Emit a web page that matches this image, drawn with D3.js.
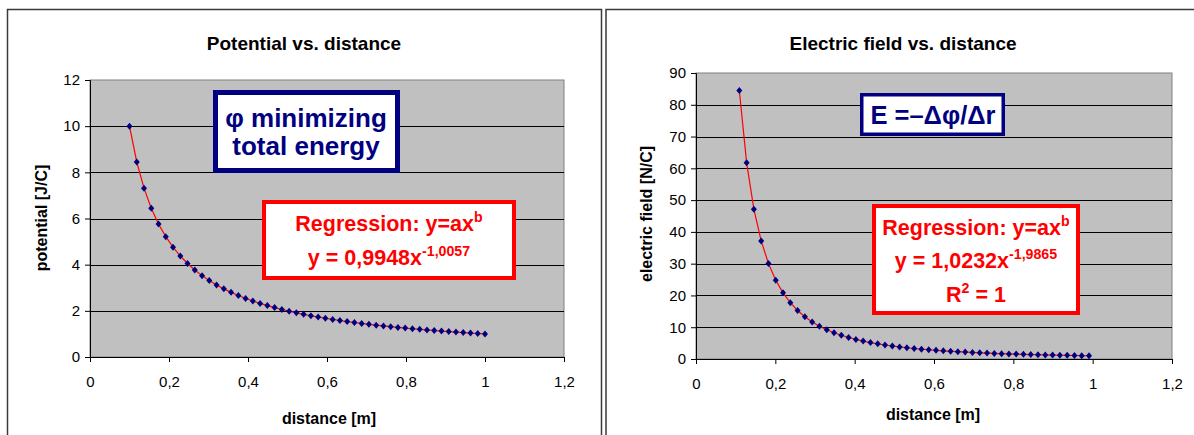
<!DOCTYPE html>
<html><head><meta charset="utf-8">
<script src="https://cdn.jsdelivr.net/npm/d3@7"></script>
<style>
html,body{margin:0;padding:0;background:#fff;}
svg{display:block;font-family:"Liberation Sans",Arial,sans-serif;}
</style></head>
<body>
<svg id="c" width="1194" height="435"></svg>
<script>
// distance grid for potential (m)
const phiR = [0.1000,0.1184,0.1367,0.1551,0.1735,0.1918,0.2102,0.2286,0.2469,0.2653,
  0.2837,0.3020,0.3204,0.3388,0.3571,0.3755,0.3939,0.4122,0.4306,0.4490,
  0.4673,0.4857,0.5041,0.5224,0.5408,0.5592,0.5776,0.5959,0.6143,0.6327,
  0.6510,0.6694,0.6878,0.7061,0.7245,0.7429,0.7612,0.7796,0.7980,0.8163,
  0.8347,0.8531,0.8714,0.8898,0.9082,0.9265,0.9449,0.9633,0.9816,1.0000];
// potential values (J/C)
const phiV = [10.000,8.448,7.313,6.447,5.765,5.213,4.757,4.375,4.050,3.769,
  3.525,3.311,3.121,2.952,2.800,2.663,2.539,2.426,2.322,2.227,
  2.140,2.059,1.984,1.914,1.849,1.788,1.731,1.678,1.628,1.581,
  1.536,1.494,1.454,1.416,1.380,1.346,1.314,1.283,1.253,1.225,
  1.198,1.172,1.148,1.124,1.101,1.079,1.058,1.038,1.019,1.000];
// distance grid for electric field (m)
const eR = [0.1092,0.1276,0.1459,0.1643,0.1827,0.2010,0.2194,0.2378,0.2561,0.2745,
  0.2929,0.3112,0.3296,0.3480,0.3663,0.3847,0.4031,0.4214,0.4398,0.4582,
  0.4765,0.4949,0.5133,0.5316,0.5500,0.5684,0.5867,0.6051,0.6235,0.6418,
  0.6602,0.6786,0.6969,0.7153,0.7337,0.7520,0.7704,0.7888,0.8071,0.8255,
  0.8439,0.8622,0.8806,0.8990,0.9173,0.9357,0.9541,0.9724,0.9908];
// electric field values (N/C)
const eV = [84.50,61.79,47.15,37.17,30.05,24.80,20.81,17.72,15.26,13.29,
  11.67,10.33,9.213,8.265,7.457,6.761,6.159,5.633,5.172,4.766,
  4.405,4.084,3.797,3.539,3.307,3.096,2.906,2.732,2.573,2.428,
  2.295,2.172,2.059,1.955,1.858,1.768,1.685,1.608,1.535,1.468,
  1.404,1.345,1.290,1.238,1.188,1.142,1.099,1.058,1.019];

const xTicks = [0,0.2,0.4,0.6,0.8,1,1.2];
const xTickLabels = ["0","0,2","0,4","0,6","0,8","1","1,2"];
const phiTicks = [0,2,4,6,8,10,12];
const eTicks = [0,10,20,30,40,50,60,70,80,90];

const svg = d3.select("#c");

// panel frames
svg.append("rect").attr("x",7.5).attr("y",9.5).attr("width",594).attr("height",440)
  .attr("fill","#fff").attr("stroke","#3a3a3a").attr("stroke-width",1.5);
svg.append("rect").attr("x",606).attr("y",9.5).attr("width",600).attr("height",440)
  .attr("fill","#fff").attr("stroke","#3a3a3a").attr("stroke-width",1.5);

function chart(o){
  const g = svg.append("g");
  const x = d3.scaleLinear().domain([0,1.2]).range([o.left,o.right]);
  const y = d3.scaleLinear().domain([0,o.ymax]).range([o.bottom,o.top]);
  g.append("rect").attr("x",o.left).attr("y",o.top)
    .attr("width",o.right-o.left).attr("height",o.bottom-o.top)
    .attr("fill","#c0c0c0").attr("stroke","#808080").attr("stroke-width",1);
  g.selectAll(".gl").data(o.yTicks.filter(v=>v>0 && v<o.ymax)).enter().append("line")
    .attr("x1",o.left).attr("x2",o.right)
    .attr("y1",d=>Math.round(y(d))+0.5).attr("y2",d=>Math.round(y(d))+0.5)
    .attr("stroke","#000").attr("stroke-width",1);
  const xa = d3.axisBottom(x).tickValues(xTicks).tickFormat((d,i)=>xTickLabels[i]).tickSizeOuter(0).tickSize(5).tickPadding(14);
  const ya = d3.axisLeft(y).tickValues(o.yTicks).tickSizeOuter(0).tickSize(5).tickPadding(5);
  const gx = g.append("g").attr("transform",`translate(0,${o.bottom})`).call(xa);
  const gy = g.append("g").attr("transform",`translate(${o.left},0)`).call(ya);
  [gx,gy].forEach(a=>{
    a.select(".domain").attr("stroke","#000");
    a.selectAll(".tick line").attr("stroke","#000");
    a.selectAll("text").attr("font-family","Liberation Sans, Arial, sans-serif")
      .attr("font-size",15).attr("fill","#000");
  });
  g.append("text").attr("x",o.titleX).attr("y",50).attr("text-anchor","middle")
    .attr("font-size",19).attr("font-weight","bold").text(o.title);
  g.append("text").attr("x",o.xlabX).attr("y",o.xlabY).attr("text-anchor","middle")
    .attr("font-size",16).attr("font-weight","bold").text("distance [m]");
  g.append("text").attr("transform",`translate(${o.ylabX},${o.ylabY}) rotate(-90)`)
    .attr("text-anchor","middle").attr("font-size",16).attr("font-weight","bold").text(o.ylab);
  const line = d3.line().x((d,i)=>x(o.xs[i])).y(d=>y(d));
  g.append("path").datum(o.ys).attr("d",line).attr("fill","none")
    .attr("stroke","#ff0000").attr("stroke-width",1.2);
  g.selectAll(".mk").data(o.ys).enter().append("path")
    .attr("transform",(d,i)=>`translate(${x(o.xs[i])},${y(d)})`)
    .attr("d","M0,-3.5L3,0L0,3.5L-3,0Z").attr("fill","#000080");
  return g;
}

chart({left:90,right:564,top:80,bottom:357,ymax:12,yTicks:phiTicks,xs:phiR,ys:phiV,
  title:"Potential vs. distance",titleX:304,xlabX:329,xlabY:424,ylab:"potential [J/C]",ylabX:47,ylabY:218});
chart({left:696,right:1172,top:73,bottom:359,ymax:90,yTicks:eTicks,xs:eR,ys:eV,
  title:"Electric field vs. distance",titleX:903,xlabX:933,xlabY:420,ylab:"electric field [N/C]",ylabX:652,ylabY:214});

function box(x0,y0,w,h,color,sw){
  svg.append("rect").attr("x",x0+sw/2).attr("y",y0+sw/2).attr("width",w-sw).attr("height",h-sw)
    .attr("fill","#fff").attr("stroke",color).attr("stroke-width",sw);
}
const navy = "#000080", red = "#ff0000";
box(213,90,187,83,navy,5);
svg.append("text").attr("x",306).attr("y",127).attr("text-anchor","middle").attr("font-size",26)
  .attr("font-weight","bold").attr("fill",navy).text("φ minimizing");
svg.append("text").attr("x",306).attr("y",155).attr("text-anchor","middle").attr("font-size",26)
  .attr("font-weight","bold").attr("fill",navy).text("total energy");

box(860,93,145,43,navy,3.5);
svg.append("text").attr("x",933).attr("y",124).attr("text-anchor","middle").attr("font-size",25.5)
  .attr("font-weight","bold").attr("fill",navy).text("E =–Δφ/Δr");

function eq(cx,cy,main,sup,after,fs){
  const t = svg.append("text").attr("x",cx).attr("y",cy).attr("text-anchor","middle")
    .attr("font-size",fs).attr("font-weight","bold").attr("fill",red);
  t.append("tspan").text(main);
  if(sup) t.append("tspan").attr("dy",-9).attr("font-size",fs*0.66).text(sup);
  if(after) t.append("tspan").attr("dy",9).text(after);
}
box(262,200,254,80,red,4);
eq(389,231,"Regression: y=ax","b",null,21.5);
eq(389,265,"y = 0,9948x","-1,0057",null,21.5);

box(872,204,208,111,red,4);
eq(976,235,"Regression: y=ax","b",null,21.5);
eq(976,268,"y = 1,0232x","-1,9865",null,21.5);
eq(976,302,"R","2"," = 1",21.5);
</script>
</body></html>
